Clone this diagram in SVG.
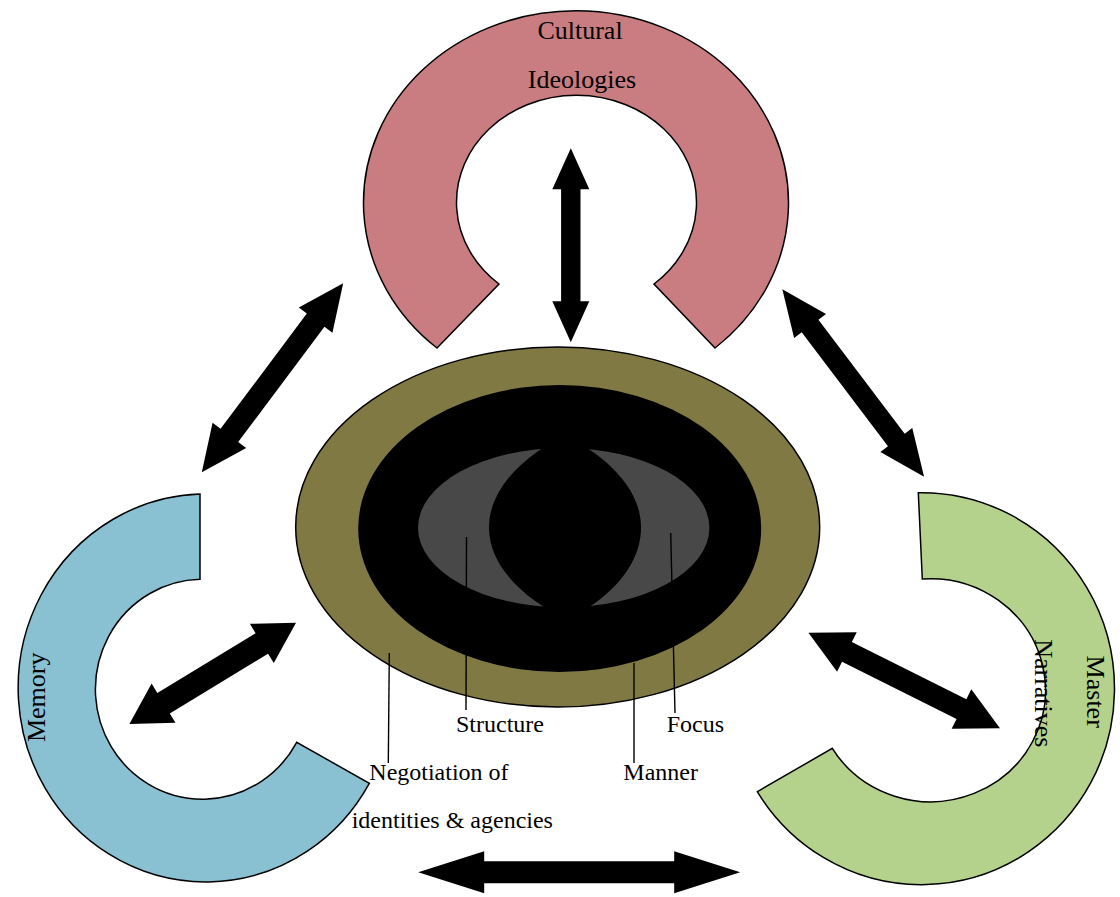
<svg xmlns="http://www.w3.org/2000/svg" width="1120" height="897" viewBox="0 0 1120 897">
  <style>
    .arc { stroke: #000; stroke-width: 1.5; stroke-linejoin: miter; }
    .lbl { font-family: "Liberation Serif", "Times New Roman", serif; font-size: 24px; fill: #000; }
    .big { font-family: "Liberation Serif", "Times New Roman", serif; font-size: 26px; fill: #000; }
    .lead { stroke: #000; stroke-width: 1.4; fill: none; }
    .arrow { fill: #000; stroke: none; }
  </style>
  <rect width="1120" height="897" fill="#fff"/>

  <g id="node-cultural-ideologies">
    <path class="arc" fill="#C97D80" d="M 437 348 A 212.5 192 0 1 1 715 348 L 654 284 A 120 107 0 1 0 499 284 Z"/>
    <text class="big" x="580" y="39" text-anchor="middle">Cultural</text>
    <text class="big" x="582" y="88" text-anchor="middle">Ideologies</text>
  </g>

  <g id="node-memory">
    <path class="arc" fill="#89C1D3" d="M 200 494 A 187.7 194 0 1 0 369.3 783.3 L 296.7 742.3 A 107.3 110 0 1 1 200 579.3 Z"/>
    <text class="big" transform="translate(45,697.3) rotate(-90)" x="0" y="0" text-anchor="middle">Memory</text>
  </g>

  <g id="node-master-narratives">
    <path class="arc" fill="#B5D28C" d="M 918.3 492.7 A 193 196 0 1 1 757.3 791.7 L 832.3 748.3 A 115 111.5 0 1 0 922.3 579 Z"/>
    <text class="big" transform="translate(1087,691.7) rotate(90)" x="0" y="0" text-anchor="middle">Master</text>
    <text class="big" transform="translate(1035,693.3) rotate(90)" x="0" y="0" text-anchor="middle">Narratives</text>
  </g>

  <g id="node-center">
    <ellipse cx="557.7" cy="527" rx="262" ry="180" fill="#807943" stroke="#000" stroke-width="1.5"/>
    <ellipse cx="559.7" cy="528.5" rx="201.5" ry="143.5" fill="#000"/>
    <ellipse cx="563.7" cy="527.7" rx="145.7" ry="79.7" fill="#484848"/>
    <path fill="#000" d="M 565 436 C 540 447, 489 480, 489 527.5 C 489 575, 541 608, 567 619 C 593 608, 641 575, 641 527.5 C 641 480, 590 447, 565 436 Z"/>
  </g>

  <g id="labels">
    <line class="lead" x1="389.3" y1="653" x2="388.3" y2="763"/>
    <line class="lead" x1="466.5" y1="537" x2="466" y2="710"/>
    <line class="lead" x1="634" y1="663" x2="634" y2="763"/>
    <line class="lead" x1="670.7" y1="533" x2="675" y2="713"/>
    <text class="lbl" x="456" y="731.7">Structure</text>
    <text class="lbl" x="666.7" y="731.7">Focus</text>
    <text class="lbl" x="369.3" y="780">Negotiation of</text>
    <text class="lbl" x="623.3" y="780">Manner</text>
    <text class="lbl" x="351.7" y="828.3">identities &amp; agencies</text>
  </g>

  <g id="connectors">
    <path class="arrow" transform="translate(570.8,245.3) rotate(90)" d="M -97 0 L -56 -18.5 L -56 -9.7 L 56 -9.7 L 56 -18.5 L 97 0 L 56 18.5 L 56 9.7 L -56 9.7 L -56 18.5 Z"/>
    <path class="arrow" transform="translate(272.5,377.8) rotate(-53.2)" d="M -118 0 L -72 -21 L -72 -11 L 72 -11 L 72 -21 L 118 0 L 72 21 L 72 11 L -72 11 L -72 21 Z"/>
    <path class="arrow" transform="translate(853.2,383) rotate(52.9)" d="M -117.5 0 L -71.5 -20 L -71.5 -10.5 L 71.5 -10.5 L 71.5 -20 L 117.5 0 L 71.5 20 L 71.5 10.5 L -71.5 10.5 L -71.5 20 Z"/>
    <path class="arrow" transform="translate(212.7,673.3) rotate(-31.3)" d="M -97.5 0 L -57.5 -23 L -57.5 -12 L 57.5 -12 L 57.5 -23 L 97.5 0 L 57.5 23 L 57.5 12 L -57.5 12 L -57.5 23 Z"/>
    <path class="arrow" transform="translate(904.2,680.5) rotate(26.5)" d="M -107 0 L -64 -22 L -64 -11 L 64 -11 L 64 -22 L 107 0 L 64 22 L 64 11 L -64 11 L -64 22 Z"/>
    <path class="arrow" transform="translate(579.2,872.3)" d="M -161 0 L -95 -21 L -95 -11 L 95 -11 L 95 -21 L 161 0 L 95 21 L 95 11 L -95 11 L -95 21 Z"/>
  </g>
</svg>
